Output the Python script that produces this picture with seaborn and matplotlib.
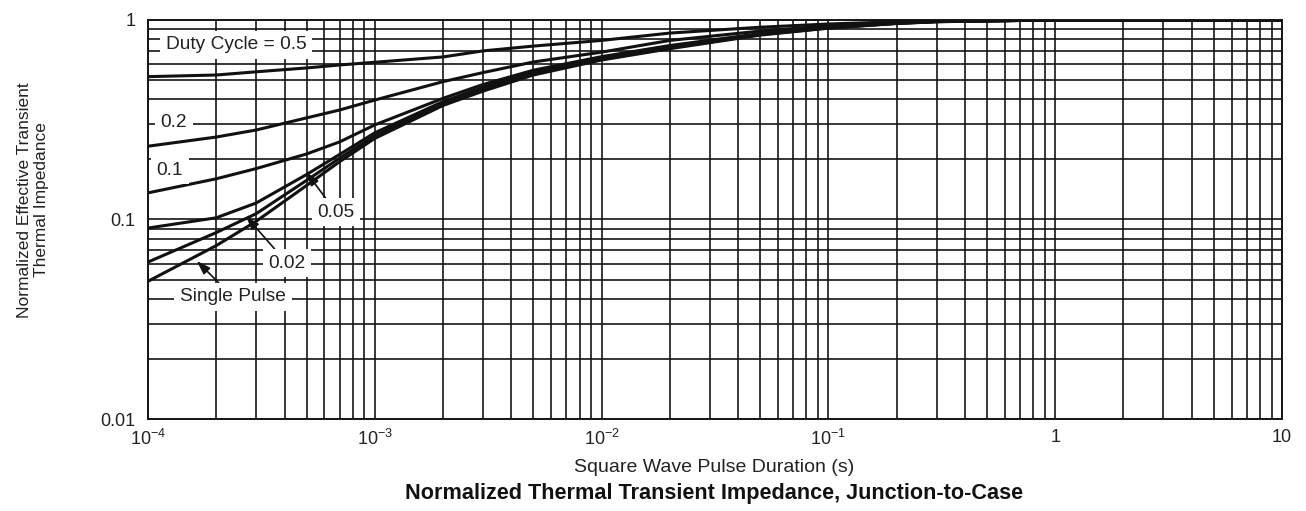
import numpy as np
import pandas as pd
import matplotlib
matplotlib.use("Agg")
import matplotlib.pyplot as plt
import seaborn as sns
from matplotlib.ticker import LogLocator, NullFormatter

# ---- data ----
pulse_s = [1e-4, 2e-4, 3e-4, 5e-4, 7e-4, 1e-3, 2e-3, 3e-3, 5e-3, 1e-2,
           2e-2, 5e-2, 1e-1, 2e-1, 3e-1, 1.0, 10.0]
z_d050 = [0.52, 0.53, 0.55, 0.575, 0.595, 0.614, 0.653, 0.70, 0.74, 0.79,
          0.86, 0.92, 0.955, 0.98, 0.99, 1.0, 1.0]
z_d020 = [0.233, 0.259, 0.281, 0.323, 0.354, 0.397, 0.491, 0.545, 0.616, 0.69,
          0.79, 0.88, 0.935, 0.97, 0.985, 1.0, 1.0]
z_d010 = [0.136, 0.160, 0.180, 0.213, 0.245, 0.298, 0.405, 0.475, 0.56, 0.655,
          0.745, 0.855, 0.92, 0.965, 0.983, 1.0, 1.0]
z_d005 = [0.0906, 0.102, 0.121, 0.168, 0.212, 0.272, 0.39, 0.46, 0.549, 0.645,
          0.73, 0.85, 0.915, 0.963, 0.982, 1.0, 1.0]
z_d002 = [0.0612, 0.086, 0.107, 0.157, 0.203, 0.263, 0.381, 0.451, 0.54, 0.637,
          0.724, 0.845, 0.912, 0.962, 0.981, 1.0, 1.0]
z_single = [0.049, 0.074, 0.098, 0.148, 0.195, 0.255, 0.373, 0.44, 0.53, 0.63,
            0.718, 0.84, 0.91, 0.96, 0.98, 1.0, 1.0]

series_names = ["0.5", "0.2", "0.1", "0.05", "0.02", "Single Pulse"]
series_vals = [z_d050, z_d020, z_d010, z_d005, z_d002, z_single]

x_tick_vals = [1e-4, 1e-3, 1e-2, 1e-1, 1, 10]
x_tick_labels = ["10$^{-4}$", "10$^{-3}$", "10$^{-2}$", "10$^{-1}$", "1", "10"]
y_tick_vals = [0.01, 0.1, 1]
y_tick_labels = ["0.01", "0.1", "1"]

# curve labels: (text, text position, arrow tip or None)
curve_labels = [
    ("Duty Cycle = 0.5", (2.44e-4, 0.75), None),
    ("0.2", (1.30e-4, 0.308), None),
    ("0.1", (1.25e-4, 0.177), None),
    ("0.05", (6.75e-4, 0.109), (4.98e-4, 0.173)),
    ("0.02", (4.1e-4, 0.0605), (2.7e-4, 0.104)),
    ("Single Pulse", (2.37e-4, 0.0409), (1.64e-4, 0.062)),
]

rows = []
for name, vals in zip(series_names, series_vals):
    for t, z in zip(pulse_s, vals):
        rows.append({"t": t, "z": z, "series": name})
df = pd.DataFrame(rows)

sns.set_style("white")
plt.rcParams["font.family"] = ["Liberation Sans", "DejaVu Sans"]
plt.rcParams["mathtext.fontset"] = "custom"
plt.rcParams["mathtext.rm"] = "Liberation Sans"
plt.rcParams["mathtext.it"] = "Liberation Sans:italic"
plt.rcParams["mathtext.bf"] = "Liberation Sans:bold"

W, H = 1306, 511
fig = plt.figure(figsize=(W / 100, H / 100), dpi=100)
ax = fig.add_axes([148 / W, 1 - 419 / H, (1282 - 148) / W, (419 - 20) / H])

sns.lineplot(data=df, x="t", y="z", hue="series", palette=["#111111"] * 6,
             estimator=None, sort=False, legend=False, lw=2.2, ax=ax, zorder=3)

ax.set_xscale("log")
ax.set_yscale("log")
ax.set_xlim(1e-4, 10)
ax.set_ylim(0.01, 1)

ax.xaxis.set_minor_locator(LogLocator(base=10, subs=np.arange(2, 10)))
ax.yaxis.set_minor_locator(LogLocator(base=10, subs=np.arange(2, 10)))
ax.xaxis.set_minor_formatter(NullFormatter())
ax.yaxis.set_minor_formatter(NullFormatter())
ax.set_xticks(x_tick_vals)
ax.set_xticklabels(x_tick_labels)
ax.set_yticks(y_tick_vals)
ax.set_yticklabels(y_tick_labels)
ax.tick_params(which="both", length=0, labelsize=13, colors="#222222")
ax.tick_params(axis="x", pad=7)
ax.tick_params(axis="y", pad=9)

ax.set_axisbelow(True)
ax.grid(which="both", color="#151515", lw=1.2)
for sp in ax.spines.values():
    sp.set_color("#151515")
    sp.set_linewidth(1.4)

ax.set_xlabel("")
ax.set_ylabel("")

for text, pos, tip in curve_labels:
    bbox = dict(boxstyle="square,pad=0.3", fc="white", ec="none")
    if tip is None:
        ax.text(pos[0], pos[1], text, ha="center", va="center", fontsize=13.8,
                color="#222222", bbox=bbox, zorder=4)
    else:
        ax.annotate(text, xy=tip, xytext=pos, ha="center", va="center",
                    fontsize=13.8, color="#222222", bbox=bbox, zorder=4,
                    arrowprops=dict(arrowstyle="-|>,head_length=0.6,head_width=0.2",
                                    color="#111111", lw=1.2, shrinkA=0, shrinkB=0))

fig.text(714 / W, 1 - 467 / H, "Square Wave Pulse Duration (s)", ha="center",
         va="center", fontsize=14, color="#222222")
fig.text(714 / W, 1 - 494 / H,
         "Normalized Thermal Transient Impedance, Junction-to-Case",
         ha="center", va="center", fontsize=15.6, fontweight="bold", color="#111111")
fig.text(33 / W, 1 - 200 / H, "Normalized Effective Transient\nThermal Impedance",
         ha="center", va="center", rotation=90, fontsize=12.5, color="#222222",
         multialignment="center", linespacing=1.2)

fig.savefig("out.png", dpi=100, facecolor="white")
